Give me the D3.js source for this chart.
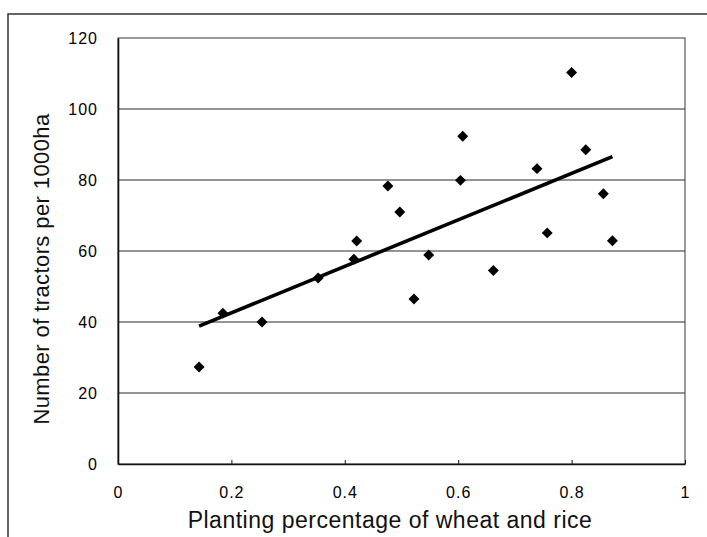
<!DOCTYPE html>
<html>
<head>
<meta charset="utf-8">
<script src="https://cdn.jsdelivr.net/npm/d3@7"></script>
<style>
  html, body { margin: 0; padding: 0; background: #fff; }
  svg { display: block; font-family: "Liberation Sans", Arial, sans-serif; }
</style>
</head>
<body>
<svg id="chart" width="707" height="537"></svg>
<script>
// Data
const plantingShare = [0.143, 0.185, 0.254, 0.353, 0.416, 0.421, 0.476, 0.497, 0.522, 0.548,
                       0.604, 0.608, 0.662, 0.739, 0.757, 0.800, 0.825, 0.856, 0.872];
const tractors      = [27.3, 42.5, 40.0, 52.4, 57.7, 62.8, 78.3, 71.0, 46.5, 58.9,
                       79.9, 92.3, 54.5, 83.2, 65.1, 110.3, 88.5, 76.1, 62.9];
const xTicks = [0, 0.2, 0.4, 0.6, 0.8, 1];
const xTickLabels = ["0", "0.2", "0.4", "0.6", "0.8", "1"];
const yTicks = [0, 20, 40, 60, 80, 100, 120];
const xTitle = "Planting percentage of wheat and rice";
const yTitle = "Number of tractors per 1000ha";

const points = plantingShare.map((x, i) => ({ x, y: tractors[i] }));

// Linear least-squares trend line
const mx = d3.mean(plantingShare), my = d3.mean(tractors);
const sxy = d3.sum(points, p => (p.x - mx) * (p.y - my));
const sxx = d3.sum(points, p => (p.x - mx) * (p.x - mx));
const slope = sxy / sxx, intercept = my - slope * mx;
const xMin = d3.min(plantingShare), xMax = d3.max(plantingShare);
const trend = [{ x: xMin, y: intercept + slope * xMin }, { x: xMax, y: intercept + slope * xMax }];

const svg = d3.select("#chart");
const plot = { left: 118, right: 685, top: 38, bottom: 464 };

const x = d3.scaleLinear().domain([0, 1]).range([plot.left, plot.right]);
const y = d3.scaleLinear().domain([0, 120]).range([plot.bottom, plot.top]);

// Outer frame (top and left edges visible)
svg.append("path")
  .attr("d", `M8,537 L8,14 L707,14`)
  .attr("fill", "none").attr("stroke", "#333").attr("stroke-width", 1.5);

// Gridlines
svg.append("g").selectAll("line").data(yTicks.filter(t => t > 0 && t < 120)).join("line")
  .attr("x1", plot.left).attr("x2", plot.right)
  .attr("y1", d => y(d)).attr("y2", d => y(d))
  .attr("stroke", "#2a2a2a").attr("stroke-width", 1.1);

// Plot border
svg.append("rect")
  .attr("x", plot.left).attr("y", plot.top)
  .attr("width", plot.right - plot.left).attr("height", plot.bottom - plot.top)
  .attr("fill", "none").attr("stroke", "#555").attr("stroke-width", 1.2);

// Y axis
const yAxis = d3.axisLeft(y).tickValues(yTicks).tickSize(0).tickPadding(20);
const gy = svg.append("g").attr("transform", `translate(${plot.left},0)`).call(yAxis);
gy.select(".domain").attr("stroke", "#111").attr("stroke-width", 1.6);
gy.selectAll("text").attr("font-size", 16).attr("fill", "#000").attr("letter-spacing", 1);

// X axis
const xAxis = d3.axisBottom(x).tickValues(xTicks).tickFormat((d, i) => xTickLabels[i]).tickSize(0).tickPadding(23);
const gx = svg.append("g").attr("transform", `translate(0,${plot.bottom})`).call(xAxis);
gx.select(".domain").attr("stroke", "#111").attr("stroke-width", 1.6);
gx.selectAll("text").attr("font-size", 16).attr("fill", "#000").attr("letter-spacing", 1);
// small inner tick marks
gx.selectAll(".tick").append("line")
  .attr("y1", 0).attr("y2", -4).attr("stroke", "#111");

// Trend line
svg.append("path")
  .datum(trend)
  .attr("d", d3.line().x(d => x(d.x)).y(d => y(d.y)))
  .attr("fill", "none").attr("stroke", "#000").attr("stroke-width", 3.6);

// Diamond markers
const diamond = d3.symbol().type(d3.symbolSquare).size(60);
svg.append("g").selectAll("path").data(points).join("path")
  .attr("d", diamond)
  .attr("transform", d => `translate(${x(d.x)},${y(d.y)}) rotate(45)`)
  .attr("fill", "#000");

// Axis titles
svg.append("text")
  .attr("x", 390).attr("y", 528)
  .attr("text-anchor", "middle").attr("font-size", 23).attr("letter-spacing", 0.5).attr("fill", "#111")
  .text(xTitle);

svg.append("text")
  .attr("transform", `translate(49,269) rotate(-90)`)
  .attr("text-anchor", "middle").attr("font-size", 22).attr("letter-spacing", 0.4).attr("fill", "#111")
  .text(yTitle);
</script>
</body>
</html>
